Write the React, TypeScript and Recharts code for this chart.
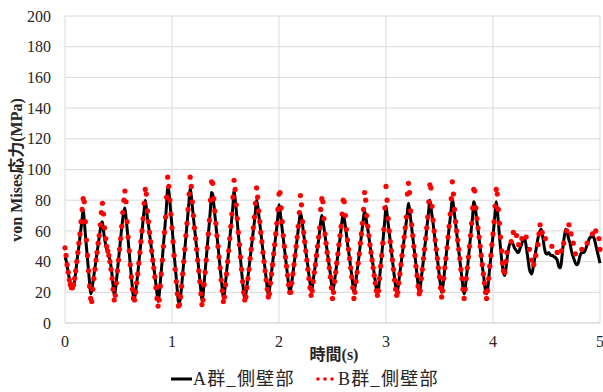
import React from 'react';
import { LineChart, Line, XAxis, YAxis, CartesianGrid } from 'recharts';

// sampling step of both series (s)
const TIME_STEP = 0.01;

const xTicks = [0, 1, 2, 3, 4, 5];
const yTicks = [0, 20, 40, 60, 80, 100, 120, 140, 160, 180, 200];

const seriesNames = ['A群_側壁部', 'B群_側壁部'];

// A群_側壁部 (MPa), one value per 0.01 s, 0.00 .. 5.00
const seriesA = [
  43, 41, 37, 33, 29, 26, 24, 23, 24, 28,
  33, 39, 45, 50, 56, 62, 68, 74, 67, 58,
  50, 42, 34, 26, 19, 21, 26, 31, 36, 41,
  46, 51, 56, 61, 65, 66, 60, 55, 51, 48,
  46, 44, 41, 37, 31, 24, 18, 21, 27, 34,
  41, 48, 55, 62, 68, 73, 75, 69, 62, 54,
  46, 38, 30, 23, 17, 16, 20, 26, 32, 39,
  46, 53, 60, 67, 74, 80, 75, 69, 64, 58,
  53, 47, 42, 36, 31, 25, 19, 14, 18, 26,
  34, 42, 51, 59, 68, 78, 88, 86, 79, 71,
  63, 54, 45, 37, 29, 21, 14, 13, 17, 24,
  32, 40, 48, 56, 64, 72, 80, 88, 83, 76,
  69, 62, 56, 49, 42, 35, 28, 21, 15, 18,
  26, 34, 42, 50, 58, 66, 75, 85, 84, 78,
  71, 64, 57, 50, 43, 36, 29, 22, 16, 19,
  26, 33, 40, 47, 55, 62, 69, 77, 86, 81,
  74, 66, 58, 50, 42, 34, 27, 20, 16, 19,
  24, 30, 36, 42, 48, 54, 60, 66, 73, 80,
  77, 71, 65, 59, 53, 47, 41, 35, 29, 23,
  18, 21, 27, 33, 39, 45, 51, 57, 63, 70,
  77, 73, 67, 61, 55, 49, 43, 37, 31, 25,
  20, 22, 27, 32, 38, 43, 49, 55, 61, 67,
  72, 69, 64, 58, 53, 47, 42, 37, 31, 26,
  21, 23, 28, 33, 38, 44, 49, 54, 60, 66,
  70, 67, 62, 57, 52, 47, 42, 37, 32, 26,
  21, 23, 28, 33, 39, 44, 50, 55, 61, 67,
  71, 68, 63, 58, 52, 47, 42, 36, 31, 25,
  20, 23, 28, 34, 39, 45, 51, 57, 63, 69,
  73, 70, 65, 61, 56, 51, 46, 42, 37, 32,
  27, 22, 19, 22, 29, 37, 44, 52, 60, 68,
  76, 71, 65, 59, 53, 47, 41, 35, 29, 24,
  20, 22, 27, 33, 38, 44, 49, 55, 60, 66,
  72, 78, 74, 68, 62, 56, 50, 44, 38, 31,
  25, 20, 23, 29, 35, 41, 48, 54, 61, 67,
  74, 80, 76, 70, 65, 59, 53, 47, 42, 36,
  30, 24, 20, 23, 29, 36, 42, 49, 55, 62,
  68, 75, 81, 77, 71, 65, 59, 53, 47, 41,
  35, 29, 23, 19, 22, 29, 35, 42, 49, 56,
  63, 70, 79, 77, 72, 66, 61, 55, 49, 43,
  37, 32, 26, 21, 19, 22, 29, 36, 43, 50,
  57, 64, 72, 79, 74, 66, 57, 49, 42, 36,
  32, 31, 35, 41, 46, 50, 52, 53, 52, 51,
  49, 48, 47, 46, 46, 48, 50, 52, 54, 55,
  54, 50, 45, 40, 35, 33, 32, 34, 38, 42,
  47, 51, 55, 58, 60, 61, 58, 54, 49, 46,
  45, 45, 46, 45, 44, 44, 44, 43, 43, 42,
  41, 38, 36, 36, 40, 47, 53, 58, 61, 60,
  57, 54, 52, 48, 45, 43, 41, 39, 38, 38,
  40, 43, 45, 46, 46, 46, 47, 49, 51, 53,
  55, 56, 56, 56, 56, 54, 51, 48, 45, 42,
  39,
];

// B群_側壁部 (MPa), same time base; sparser samples after 4.1 s
const seriesB = [
  49, 44, 38, 33, 28, 25, 23, 23, 25, 29,
  34, 40, 46, 52, 58, 66, 74, 81, 79, 66,
  54, 44, 34, 24, 16, 14, 22, 29, 35, 41,
  46, 52, 57, 64, 72, 78, 71, 62, 55, 50,
  47, 44, 40, 35, 29, 22, 15, 18, 26, 34,
  41, 48, 55, 63, 72, 80, 86, 79, 66, 56,
  47, 38, 30, 22, 16, 15, 20, 26, 32, 39,
  46, 53, 60, 68, 78, 87, 84, 73, 66, 59,
  53, 47, 41, 36, 30, 23, 16, 11, 15, 24,
  32, 41, 50, 59, 69, 82, 95, 89, 80, 71,
  62, 53, 44, 35, 27, 19, 11, 12, 17, 24,
  32, 40, 48, 57, 65, 74, 84, 95, 89, 79,
  70, 62, 55, 48, 41, 34, 27, 19, 12, 15,
  25, 33, 41, 49, 58, 67, 80, 92, 91, 81,
  73, 65, 57, 50, 43, 36, 28, 21, 14, 17,
  25, 32, 40, 47, 55, 63, 71, 82, 93, 87,
  77, 68, 59, 51, 43, 35, 27, 20, 15, 17,
  23, 29, 35, 42, 48, 55, 62, 69, 78, 88,
  82, 73, 66, 59, 53, 46, 40, 34, 28, 22,
  17, 19, 26, 32, 38, 45, 51, 58, 65, 74,
  84, 85, 75, 66, 57, 50, 43, 37, 31, 25,
  20, 20, 26, 32, 38, 44, 50, 56, 63, 72,
  83, 77, 66, 59, 53, 47, 41, 35, 29, 23,
  18, 21, 27, 33, 38, 44, 50, 56, 62, 74,
  81, 79, 68, 58, 52, 46, 41, 36, 30, 23,
  16, 20, 27, 33, 39, 45, 51, 57, 63, 71,
  80, 79, 70, 61, 54, 48, 42, 36, 30, 23,
  16, 20, 27, 33, 39, 45, 52, 58, 65, 74,
  85, 80, 70, 63, 57, 51, 46, 41, 36, 31,
  26, 21, 18, 21, 29, 37, 44, 52, 61, 75,
  89, 80, 68, 60, 53, 47, 41, 35, 28, 22,
  18, 20, 26, 32, 38, 44, 50, 56, 62, 69,
  84, 91, 85, 73, 64, 57, 50, 44, 37, 31,
  24, 19, 21, 29, 35, 42, 48, 55, 62, 69,
  79, 90, 88, 76, 67, 60, 54, 48, 42, 36,
  30, 23, 17, 21, 29, 36, 42, 49, 56, 63,
  71, 81, 92, 84, 74, 66, 60, 54, 48, 42,
  35, 29, 22, 16, 22, 29, 36, 43, 50, 57,
  65, 75, 87, 86, 75, 68, 62, 56, 50, 44,
  38, 32, 26, 20, 16, 21, 29, 37, 44, 51,
  58, 66, 76, 87, 84, 74, 65, 56, 47, 39,
  34, 33, 40, 46, null, null, null, 53, null, 59,
  null, null, 57, null, 51, null, null, 55, null, null,
  null, 56, null, null, 48, null, 41, null, 38, null,
  44, null, 51, 58, 64, null, 59, null, null, 55,
  null, null, null, null, null, 50, null, null, null, null,
  46, null, null, null, 47, null, 52, null, null, 60,
  null, 64, null, 58, null, 52, null, 45, null, null,
  null, null, null, 48, null, null, null, null, 52, null,
  null, null, null, 58, null, null, 60, null, null, 55,
  48,
];

const data = seriesA.map((a, i) => ({
  t: Number((i * TIME_STEP).toFixed(2)),
  a,
  b: seriesB[i],
}));

const FONT = '"Times New Roman", "Liberation Serif", "Noto Sans CJK JP", serif';
const GRID = '#d9d9d9';
const TEXT = '#262626';

const YTitle = () => (
  <text
    x={16}
    y={170}
    transform="rotate(-90 16 170)"
    textAnchor="middle"
    dominantBaseline="central"
    fontFamily={FONT}
    fontSize={16}
    fontWeight="bold"
    fill={TEXT}
  >
    von Mises応力(MPa)
  </text>
);

const XTitle = () => (
  <text
    x={334}
    y={354}
    textAnchor="middle"
    dominantBaseline="central"
    fontFamily={FONT}
    fontSize={16}
    fontWeight="bold"
    fill={TEXT}
  >
    時間(s)
  </text>
);

const legendText: React.CSSProperties = {
  position: 'absolute',
  top: 368,
  fontSize: 18,
  lineHeight: '22px',
  letterSpacing: 1.3,
  color: TEXT,
  whiteSpace: 'nowrap',
};

const App = () => {
  return (
    <div style={{ position: 'absolute', left: 0, top: 0, width: 603, height: 392, background: '#fff', fontFamily: FONT }}>
      <LineChart
        width={603}
        height={392}
        data={data}
        margin={{ top: 16, right: 3, left: 0, bottom: 39 }}
      >
        <CartesianGrid stroke={GRID} strokeWidth={1} />
        <XAxis
          dataKey="t"
          type="number"
          domain={[0, 5]}
          ticks={xTicks}
          interval={0}
          height={30}
          axisLine={{ stroke: GRID }}
          tickLine={false}
          tickMargin={7}
          tick={{ fill: TEXT, fontSize: 16, fontFamily: FONT }}
          label={XTitle}
        />
        <YAxis
          type="number"
          domain={[0, 200]}
          ticks={yTicks}
          interval={0}
          width={65}
          axisLine={false}
          tickLine={false}
          tickMargin={8}
          tick={{ fill: TEXT, fontSize: 16, fontFamily: FONT }}
          label={YTitle}
        />
        <Line
          dataKey="a"
          name={seriesNames[0]}
          type="monotone"
          stroke="#000"
          strokeWidth={3}
          dot={false}
          isAnimationActive={false}
        />
        <Line
          dataKey="b"
          name={seriesNames[1]}
          type="linear"
          stroke="none"
          dot={{ r: 2.6, fill: '#ff0000', stroke: 'none' }}
          activeDot={false}
          isAnimationActive={false}
        />
      </LineChart>

      {/* legend */}
      <svg style={{ position: 'absolute', left: 170, top: 369 }} width={24} height={20}>
        <line x1={1} y1={10} x2={22} y2={10} stroke="#000" strokeWidth={3} />
      </svg>
      <div style={{ ...legendText, left: 193 }}>{seriesNames[0]}</div>
      <svg style={{ position: 'absolute', left: 314, top: 369 }} width={24} height={20}>
        <circle cx={4} cy={10} r={1.8} fill="#ff0000" />
        <circle cx={11} cy={10} r={1.8} fill="#ff0000" />
        <circle cx={18} cy={10} r={1.8} fill="#ff0000" />
      </svg>
      <div style={{ ...legendText, left: 338 }}>{seriesNames[1]}</div>
    </div>
  );
};

export default App;
